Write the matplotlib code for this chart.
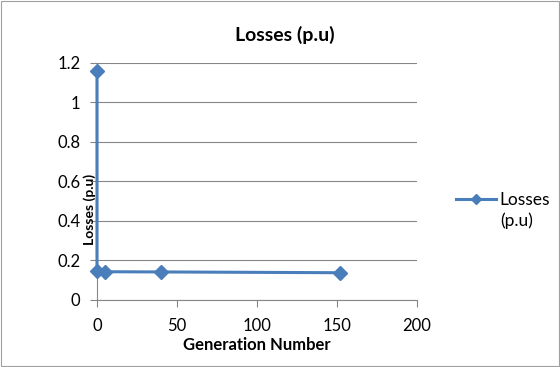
import matplotlib.pyplot as plt
from matplotlib.patches import Rectangle

# generation number vs. losses
generation = [0, 0, 5, 40, 152]
losses = [1.16, 0.145, 0.143, 0.142, 0.138]

x_ticks = [0, 50, 100, 150, 200]
y_ticks = [0, 0.2, 0.4, 0.6, 0.8, 1, 1.2]
y_labels = ["0", "0.2", "0.4", "0.6", "0.8", "1", "1.2"]

plt.rcParams['font.family'] = ['Lato', 'DejaVu Sans']

fig = plt.figure(figsize=(5.6, 3.67), dpi=100)
fig.patches.append(Rectangle((0.002, 0.003), 0.996, 0.994, transform=fig.transFigure,
                             fill=False, edgecolor='#a0a0a0', linewidth=0.8))

ax = fig.add_axes([0.1732, 0.1826, 0.5714, 0.6458])
line_color = '#4A7EBB'
ax.plot(generation, losses, color=line_color, linewidth=2.2, marker='D',
        markersize=7, clip_on=False, zorder=3, label='Losses')

ax.set_xlim(0, 200)
ax.set_ylim(0, 1.2)
ax.set_xticks(x_ticks)
ax.set_yticks(y_ticks)
ax.set_yticklabels(y_labels)
ax.tick_params(labelsize=12, color='#868686', length=5, labelcolor='#000000')
ax.tick_params(axis='x', pad=8)
ax.tick_params(axis='y', pad=7)
ax.yaxis.grid(True, color='#868686', linewidth=0.8)
ax.set_axisbelow(True)
for s in ['top', 'right']:
    ax.spines[s].set_visible(False)
for s in ['left', 'bottom']:
    ax.spines[s].set_color('#868686')

fig.text(285 / 560, 1 - 35 / 367, 'Losses (p.u)', fontsize=14, fontweight='bold',
         ha='center', va='center')
fig.text(257 / 560, 1 - 345 / 367, 'Generation Number', fontsize=12,
         fontweight='bold', ha='center', va='center')
ax.text(-0.022, 0.38, 'Losses (p.u)', transform=ax.transAxes, rotation=90,
        fontsize=10, fontweight='bold', ha='center', va='center')

leg = ax.legend(loc='upper left', bbox_to_anchor=(456 / 560, 1 - 192 / 367),
                bbox_transform=fig.transFigure, frameon=False,
                fontsize=12.5, handlelength=2.3, handletextpad=0.2,
                borderaxespad=0, borderpad=0)
leg.legend_handles[0].set_markersize(5)
fig.text(500 / 560, 1 - 221 / 367, '(p.u)', fontsize=12.5, ha='left', va='center')

fig.savefig('out.png', dpi=100)
